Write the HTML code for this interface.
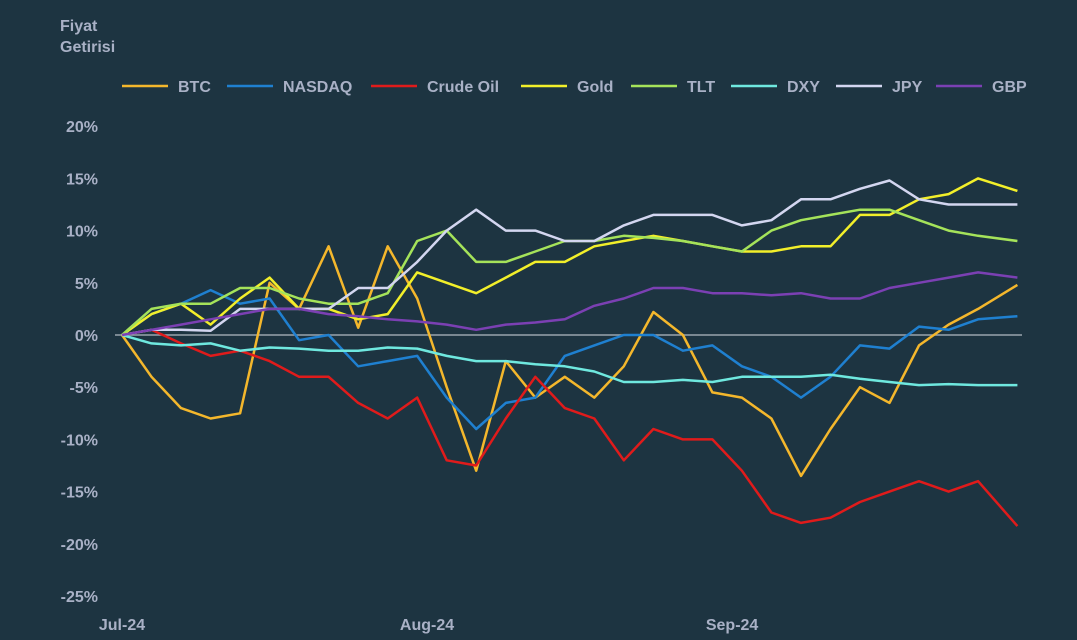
<!DOCTYPE html>
<html><head><meta charset="utf-8"><style>
body{margin:0;background:#1d3441;}
svg{display:block;font-family:"Liberation Sans",sans-serif;font-weight:bold;}
</style></head><body>
<svg id="chart" width="1077" height="640" viewBox="0 0 1077 640">
<rect width="1077" height="640" fill="#1d3441"/>
<text x="60" y="31" fill="#a9b1c6" font-size="16">Fiyat</text>
<text x="60" y="52" fill="#a9b1c6" font-size="16">Getirisi</text>
<g id="legend"></g>
<g id="yaxis"></g>
<g id="xaxis"></g>
<g id="series"></g>
</svg>
<script>
const days=[0,3,6,9,12,15,18,21,24,27,30,33,36,39,42,45,48,51,54,57,60,63,66,69,72,75,78,81,84,87,91];
const seriesNames=["BTC","NASDAQ","Crude Oil","Gold","TLT","DXY","JPY","GBP"];
const seriesColors=["#f4b72c","#1f80d0","#e01b1b","#f2ef2a","#a5e35a","#6fe8df","#d3d6f0","#7b40b3"];
const btc=[0,-4,-7,-8,-7.5,5,2.5,8.5,0.7,8.5,3.5,-5,-13,-2.5,-6,-4,-6,-3,2.2,0,-5.5,-6,-8,-13.5,-9,-5,-6.5,-1,1,2.5,4.8];
const nasdaq=[0,2,3,4.3,3,3.5,-0.5,0,-3,-2.5,-2,-6,-9,-6.5,-6,-2,-1,0,0,-1.5,-1,-3,-4,-6,-4,-1,-1.3,0.8,0.5,1.5,1.8];
const crude=[0,0.5,-0.8,-2,-1.5,-2.5,-4,-4,-6.5,-8,-6,-12,-12.5,-8,-4,-7,-8,-12,-9,-10,-10,-13,-17,-18,-17.5,-16,-15,-14,-15,-14,-18.3];
const gold=[0,2,3,1,3.5,5.5,2.5,2.5,1.5,2,6,5,4,5.5,7,7,8.5,9,9.5,9,8.5,8,8,8.5,8.5,11.5,11.5,13,13.5,15,13.8];
const tlt=[0,2.5,3,3,4.5,4.5,3.5,3,3,4,9,10,7,7,8,9,9,9.5,9.3,9,8.5,8,10,11,11.5,12,12,11,10,9.5,9];
const dxy=[0,-0.8,-1,-0.8,-1.5,-1.2,-1.3,-1.5,-1.5,-1.2,-1.3,-2,-2.5,-2.5,-2.8,-3,-3.5,-4.5,-4.5,-4.3,-4.5,-4,-4,-4,-3.8,-4.2,-4.5,-4.8,-4.7,-4.8,-4.8];
const jpy=[0,0.5,0.5,0.4,2.5,2.5,2.5,2.5,4.5,4.5,7,10,12,10,10,9,9,10.5,11.5,11.5,11.5,10.5,11,13,13,14,14.8,13,12.5,12.5,12.5];
const gbp=[0,0.5,1,1.5,2,2.5,2.5,2,1.8,1.5,1.3,1,0.5,1,1.2,1.5,2.8,3.5,4.5,4.5,4,4,3.8,4,3.5,3.5,4.5,5,5.5,6,5.5];
const yTicks=[20,15,10,5,0,-5,-10,-15,-20,-25];
const xTickLabels=["Jul-24","Aug-24","Sep-24"];
const xTickDays=[0,31,62];
const allSeries=[btc,nasdaq,crude,gold,tlt,dxy,jpy,gbp];
const NS="http://www.w3.org/2000/svg";
function xs(d){return 122+d*9.84;}
function ys(v){return 335-v*10.44;}
function mk(tag,attrs,parent){const e=document.createElementNS(NS,tag);for(const k in attrs)e.setAttribute(k,attrs[k]);parent.appendChild(e);return e;}
const ya=document.getElementById('yaxis');
yTicks.forEach(t=>{const e=mk('text',{x:98,y:ys(t)+6,fill:'#a9b1c6','font-size':16,'text-anchor':'end'},ya);e.textContent=t+'%';

});
const zl=mk('line',{x1:115,x2:1022,y1:ys(0),y2:ys(0),stroke:'#9aa3ad','stroke-width':1.5},ya);


const xa=document.getElementById('xaxis');
xTickLabels.forEach((l,i)=>{const e=mk('text',{x:xs(xTickDays[i]),y:630,fill:'#a9b1c6','font-size':16,'text-anchor':'middle'},xa);e.textContent=l;

});
const sg=document.getElementById('series');
allSeries.forEach((s,i)=>{const pts=s.map((v,j)=>xs(days[j]).toFixed(1)+','+ys(v).toFixed(1)).join(' ');
const p=mk('polyline',{points:pts,fill:'none',stroke:seriesColors[i],'stroke-width':2.5,'stroke-linejoin':'round'},sg);

});
const lg=document.getElementById('legend');
const lx=[122,227,371,521,631,731,836,936];
seriesNames.forEach((n,i)=>{const g=mk('g',{},lg);


mk('line',{x1:lx[i],x2:lx[i]+46,y1:86,y2:86,stroke:seriesColors[i],'stroke-width':2.5},g);
const t=mk('text',{x:lx[i]+56,y:92,fill:'#a9b1c6','font-size':16},g);t.textContent=n;});
</script>
</body></html>
